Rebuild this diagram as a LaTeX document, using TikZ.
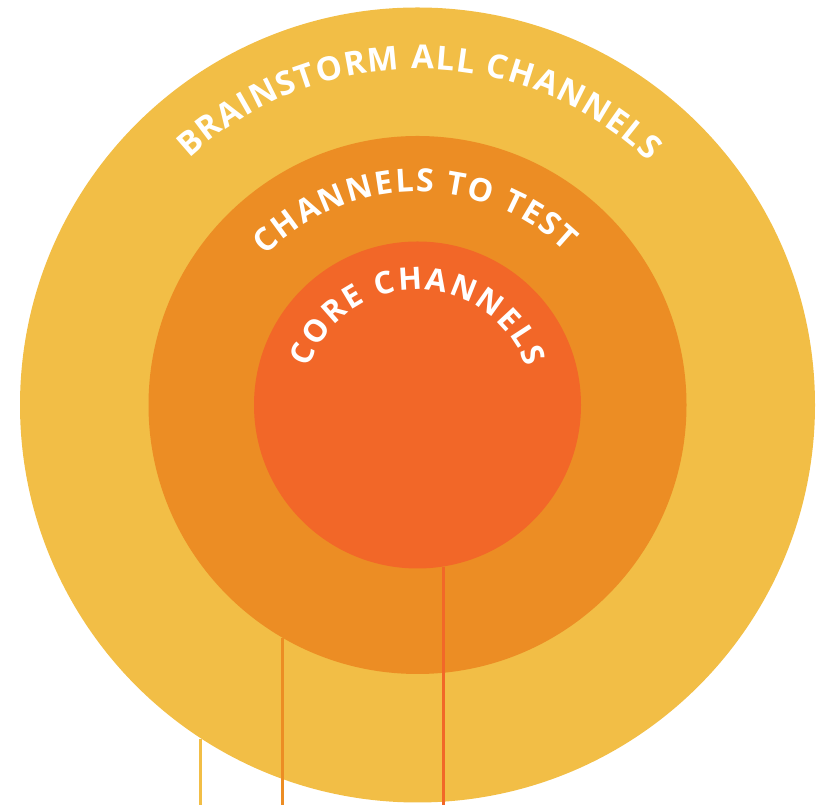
\documentclass[tikz,border=0pt]{standalone}
\usepackage{fontspec}
\usetikzlibrary{decorations.text,calc}
\newfontfamily\arcfont{Open Sans}

\definecolor{ringouter}{RGB}{242,190,70}
\definecolor{ringmid}{RGB}{236,141,36}
\definecolor{ringcore}{RGB}{242,103,40}

\tikzset{
  ring/.style={circle, inner sep=0pt, minimum size=#1, draw=none},
  leader/.style={line width=3pt},
  arclabel/.style={decorate, decoration={text along path, text align=fit to path, text={#1}}}
}

\begin{document}
\begin{tikzpicture}[x=1pt, y=1pt]
  \useasboundingbox (0,0) rectangle (819,805);
  \coordinate (c) at (417.5,400);
  \coordinate (bottom) at (0,0);

  % concentric rings
  \node[ring=795pt, fill=ringouter] (outer) at (c) {};
  \node[ring=538pt, fill=ringmid] (mid) at (c) {};
  \node[ring=327pt, fill=ringcore] (core) at (c) {};

  % leader lines dropping from each ring
  \draw[leader, ringouter] (outer.237.5) -- (outer.237.5 |- bottom);
  \draw[leader, ringmid] (mid.240.5) -- (mid.240.5 |- bottom);
  \draw[leader, ringcore] (core.279) -- (core.279 |- bottom);

  % curved ring labels
  \path[arclabel={|\color{white}\arcfont\bfseries\fontsize{33}{33}\selectfont|BRAINSTORM ALL CHANNELS}]
    ($(c)+(132.8:336)$) arc[start angle=132.8, end angle=46.5, radius=336];
  \path[arclabel={|\color{white}\arcfont\bfseries\fontsize{32}{32}\selectfont|CHANNELS TO TEST}]
    ($(c)+(135.5:213)$) arc[start angle=135.5, end angle=46, radius=213];
  \path[arclabel={|\color{white}\arcfont\bfseries\fontsize{31}{31}\selectfont|CORE CHANNELS}]
    ($(c)+(161:115)$) arc[start angle=161, end angle=19, radius=115];
\end{tikzpicture}
\end{document}
